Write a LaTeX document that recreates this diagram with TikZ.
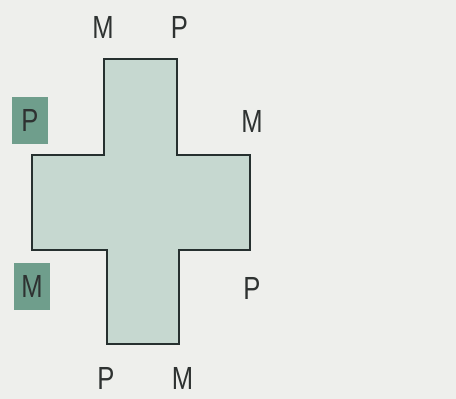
\documentclass[tikz,border=0pt]{standalone}
\usepackage{fontspec}
\setmainfont{Liberation Sans}
\usepackage{xcolor}
\usepackage{tikz}
\usetikzlibrary{positioning}
\definecolor{paperbg}{HTML}{EEEFEC}
\definecolor{ringfill}{HTML}{C6D8D0}
\definecolor{ringline}{HTML}{26302F}
\definecolor{tagfill}{HTML}{6F9E8C}
\definecolor{labeltext}{HTML}{2E3231}

\begin{document}
\begin{tikzpicture}[
    x=1pt, y=-1pt,
    lbl/.style={text=labeltext, inner sep=0pt, font=\fontsize{32}{32}\selectfont, xscale=0.8, transform shape},
    tag/.style={lbl, fill=tagfill, minimum width=45pt, minimum height=47pt}
  ]

    % paper
    \fill[paperbg] (0,0) rectangle (456,399);
    \useasboundingbox (0,0) rectangle (456,399);

    % Cross shape
    \filldraw[fill=ringfill, draw=ringline, line width=1.4pt]
      (104,59) -- (177,59) -- (177,155) -- (250,155) -- (250,250)
      -- (179,250) -- (179,344) -- (107,344) -- (107,250) -- (32,250)
      -- (32,155) -- (104,155) -- cycle;

    % Side chains — top and right
    \node[lbl] (mtop) at (103,27) {M};
    \node[lbl, right=57pt of mtop] (ptop) {P};
    \node[lbl] (mright) at (252,121) {M};
    \node[lbl] (pright) at (252,288) {P};

    % Side chains — bottom
    \node[lbl] (pbot) at (106,378) {P};
    \node[lbl, right=57pt of pbot] (mbot) {M};

    % Side chains — left, boxed
    \node[tag] (pleft) at (30,120) {P};
    \node[tag] (mleft) at (32,286) {M};
  \end{tikzpicture}
\end{document}
